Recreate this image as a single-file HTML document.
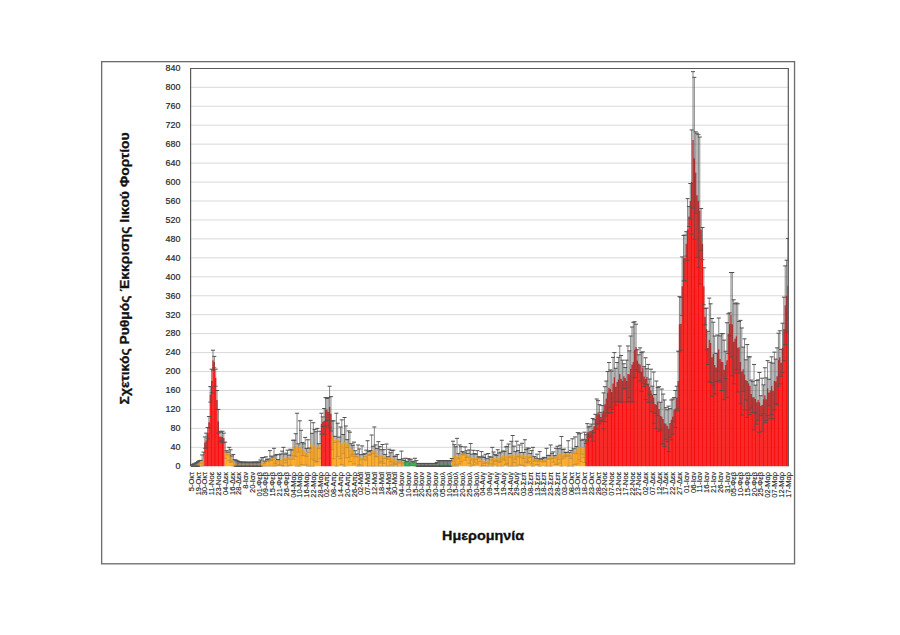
<!DOCTYPE html>
<html><head><meta charset="utf-8"><style>
html,body{margin:0;padding:0;background:#fff;width:900px;height:635px;overflow:hidden;position:relative}
</style></head><body>
<svg width="900" height="635" viewBox="0 0 900 635" style="position:absolute;left:0;top:0">
<rect x="101.65" y="61.65" width="692.9" height="502.15" fill="none" stroke="#6E6E6E" stroke-width="1.35"/>
<defs><clipPath id="pc"><rect x="191" y="60" width="598" height="407"/></clipPath></defs>
<path d="M190.6 447.35 H788.6 M190.6 428.4 H788.6 M190.6 409.45 H788.6 M190.6 390.5 H788.6 M190.6 371.55 H788.6 M190.6 352.6 H788.6 M190.6 333.65 H788.6 M190.6 314.7 H788.6 M190.6 295.75 H788.6 M190.6 276.8 H788.6 M190.6 257.85 H788.6 M190.6 238.9 H788.6 M190.6 219.95 H788.6 M190.6 201 H788.6 M190.6 182.05 H788.6 M190.6 163.1 H788.6 M190.6 144.15 H788.6 M190.6 125.2 H788.6 M190.6 106.25 H788.6 M190.6 87.3 H788.6" stroke="#D9D9D9" stroke-width="1" fill="none"/>
<g clip-path="url(#pc)">
<path d="M190.65 465.83h1.25V466.3h-1.25ZM192.01 465.59h1.25V466.3h-1.25ZM193.37 465.19h1.25V466.3h-1.25ZM194.72 464.69h1.25V466.3h-1.25ZM196.08 464.4h1.25V466.3h-1.25ZM197.43 463.84h1.25V466.3h-1.25ZM198.79 463.46h1.25V466.3h-1.25ZM200.15 461.78h1.25V466.3h-1.25ZM201.5 460.62h1.25V466.3h-1.25ZM202.86 458.72h1.25V466.3h-1.25ZM224.55 450.19h1.25V466.3h-1.25ZM225.91 451.63h1.25V466.3h-1.25ZM227.27 453.47h1.25V466.3h-1.25ZM228.62 453.98h1.25V466.3h-1.25ZM229.98 456.01h1.25V466.3h-1.25ZM231.33 458.53h1.25V466.3h-1.25ZM232.69 460.62h1.25V466.3h-1.25ZM234.05 463.46h1.25V466.3h-1.25ZM235.4 463.65h1.25V466.3h-1.25ZM236.76 463.91h1.25V466.3h-1.25ZM238.11 464.17h1.25V466.3h-1.25ZM239.47 464.41h1.25V466.3h-1.25ZM240.83 464.41h1.25V466.3h-1.25ZM242.18 464.41h1.25V466.3h-1.25ZM243.54 464.41h1.25V466.3h-1.25ZM244.89 464.41h1.25V466.3h-1.25ZM246.25 464.41h1.25V466.3h-1.25ZM247.61 464.41h1.25V466.3h-1.25ZM248.96 464.41h1.25V466.3h-1.25ZM250.32 464.41h1.25V466.3h-1.25ZM251.67 464.41h1.25V466.3h-1.25ZM253.03 464.41h1.25V466.3h-1.25ZM254.39 464.41h1.25V466.3h-1.25ZM255.74 464.41h1.25V466.3h-1.25ZM257.1 464.41h1.25V466.3h-1.25ZM258.45 464.41h1.25V466.3h-1.25ZM259.81 463.73h1.25V466.3h-1.25ZM261.17 462.98h1.25V466.3h-1.25ZM262.52 462.58h1.25V466.3h-1.25ZM263.88 462.12h1.25V466.3h-1.25ZM265.23 461.56h1.25V466.3h-1.25ZM266.59 460.47h1.25V466.3h-1.25ZM267.95 459.82h1.25V466.3h-1.25ZM269.3 459.19h1.25V466.3h-1.25ZM270.66 458.32h1.25V466.3h-1.25ZM272.01 458.01h1.25V466.3h-1.25ZM273.37 457.77h1.25V466.3h-1.25ZM274.73 459.46h1.25V466.3h-1.25ZM276.08 460.14h1.25V466.3h-1.25ZM277.44 460.25h1.25V466.3h-1.25ZM278.79 459.83h1.25V466.3h-1.25ZM280.15 459.67h1.25V466.3h-1.25ZM281.51 458.49h1.25V466.3h-1.25ZM282.86 457.3h1.25V466.3h-1.25ZM284.22 457.21h1.25V466.3h-1.25ZM285.57 458.02h1.25V466.3h-1.25ZM286.93 458.25h1.25V466.3h-1.25ZM288.29 457.07h1.25V466.3h-1.25ZM289.64 457.3h1.25V466.3h-1.25ZM291 452.89h1.25V466.3h-1.25ZM292.35 449.72h1.25V466.3h-1.25ZM293.71 448.02h1.25V466.3h-1.25ZM295.07 445.13h1.25V466.3h-1.25ZM296.42 445.46h1.25V466.3h-1.25ZM297.78 447.9h1.25V466.3h-1.25ZM299.13 446.4h1.25V466.3h-1.25ZM300.49 447.35h1.25V466.3h-1.25ZM301.85 448.98h1.25V466.3h-1.25ZM303.2 449.72h1.25V466.3h-1.25ZM304.56 451.14h1.25V466.3h-1.25ZM305.91 452.42h1.25V466.3h-1.25ZM307.27 453.98h1.25V466.3h-1.25ZM308.63 450.26h1.25V466.3h-1.25ZM309.98 444.03h1.25V466.3h-1.25ZM311.34 446.23h1.25V466.3h-1.25ZM312.69 444.98h1.25V466.3h-1.25ZM314.05 445.11h1.25V466.3h-1.25ZM315.41 446.93h1.25V466.3h-1.25ZM316.76 444.98h1.25V466.3h-1.25ZM318.12 446.16h1.25V466.3h-1.25ZM319.47 444.98h1.25V466.3h-1.25ZM331.68 435.28h1.25V466.3h-1.25ZM333.03 439.77h1.25V466.3h-1.25ZM334.39 439.43h1.25V466.3h-1.25ZM335.75 439.77h1.25V466.3h-1.25ZM337.1 439.77h1.25V466.3h-1.25ZM338.46 439.43h1.25V466.3h-1.25ZM339.81 442.83h1.25V466.3h-1.25ZM341.17 442.14h1.25V466.3h-1.25ZM342.53 444.14h1.25V466.3h-1.25ZM343.88 442.14h1.25V466.3h-1.25ZM345.24 441.91h1.25V466.3h-1.25ZM346.59 443.58h1.25V466.3h-1.25ZM347.95 444.26h1.25V466.3h-1.25ZM349.31 446.88h1.25V466.3h-1.25ZM350.66 449.93h1.25V466.3h-1.25ZM352.02 449.87h1.25V466.3h-1.25ZM353.37 453.04h1.25V466.3h-1.25ZM354.73 453.77h1.25V466.3h-1.25ZM356.09 455.32h1.25V466.3h-1.25ZM357.44 455.88h1.25V466.3h-1.25ZM358.8 456.87h1.25V466.3h-1.25ZM360.15 457.22h1.25V466.3h-1.25ZM361.51 457.77h1.25V466.3h-1.25ZM362.87 456.81h1.25V466.3h-1.25ZM364.22 455.24h1.25V466.3h-1.25ZM365.58 455.13h1.25V466.3h-1.25ZM366.93 453.98h1.25V466.3h-1.25ZM368.29 453.45h1.25V466.3h-1.25ZM369.65 452.55h1.25V466.3h-1.25ZM371 450.67h1.25V466.3h-1.25ZM372.36 449.89h1.25V466.3h-1.25ZM373.71 450.67h1.25V466.3h-1.25ZM375.07 450.61h1.25V466.3h-1.25ZM376.43 452.73h1.25V466.3h-1.25ZM377.78 455.4h1.25V466.3h-1.25ZM379.14 454.87h1.25V466.3h-1.25ZM380.49 455.77h1.25V466.3h-1.25ZM381.85 455.4h1.25V466.3h-1.25ZM383.21 456.49h1.25V466.3h-1.25ZM384.56 456.47h1.25V466.3h-1.25ZM385.92 456.82h1.25V466.3h-1.25ZM387.27 458.02h1.25V466.3h-1.25ZM388.63 457.77h1.25V466.3h-1.25ZM389.99 457.3h1.25V466.3h-1.25ZM391.34 457.7h1.25V466.3h-1.25ZM392.7 458.25h1.25V466.3h-1.25ZM394.05 459.9h1.25V466.3h-1.25ZM395.41 460.19h1.25V466.3h-1.25ZM396.77 461.09h1.25V466.3h-1.25ZM398.12 461.22h1.25V466.3h-1.25ZM399.48 460.82h1.25V466.3h-1.25ZM400.83 461.09h1.25V466.3h-1.25ZM402.19 461.38h1.25V466.3h-1.25ZM451.01 460.04h1.25V466.3h-1.25ZM452.36 456.35h1.25V466.3h-1.25ZM453.72 455.98h1.25V466.3h-1.25ZM455.07 455.82h1.25V466.3h-1.25ZM456.43 456.35h1.25V466.3h-1.25ZM457.79 456.22h1.25V466.3h-1.25ZM459.14 454.46h1.25V466.3h-1.25ZM460.5 454.15h1.25V466.3h-1.25ZM461.85 453.14h1.25V466.3h-1.25ZM463.21 453.82h1.25V466.3h-1.25ZM464.57 453.51h1.25V466.3h-1.25ZM465.92 454.16h1.25V466.3h-1.25ZM467.28 455.24h1.25V466.3h-1.25ZM468.63 456.59h1.25V466.3h-1.25ZM469.99 457.3h1.25V466.3h-1.25ZM471.35 457.08h1.25V466.3h-1.25ZM472.7 457.66h1.25V466.3h-1.25ZM474.06 457.86h1.25V466.3h-1.25ZM475.41 456.95h1.25V466.3h-1.25ZM476.77 457.3h1.25V466.3h-1.25ZM478.13 457.71h1.25V466.3h-1.25ZM479.48 459.26h1.25V466.3h-1.25ZM480.84 460.14h1.25V466.3h-1.25ZM482.19 460.78h1.25V466.3h-1.25ZM483.55 460.48h1.25V466.3h-1.25ZM484.91 461.22h1.25V466.3h-1.25ZM486.26 460.84h1.25V466.3h-1.25ZM487.62 461.09h1.25V466.3h-1.25ZM488.98 460.33h1.25V466.3h-1.25ZM490.33 458.56h1.25V466.3h-1.25ZM491.69 458.25h1.25V466.3h-1.25ZM493.04 458.03h1.25V466.3h-1.25ZM494.4 457.88h1.25V466.3h-1.25ZM495.76 458.15h1.25V466.3h-1.25ZM497.11 458.25h1.25V466.3h-1.25ZM498.47 457.71h1.25V466.3h-1.25ZM499.82 456.79h1.25V466.3h-1.25ZM501.18 455.4h1.25V466.3h-1.25ZM502.54 455.01h1.25V466.3h-1.25ZM503.89 455.83h1.25V466.3h-1.25ZM505.25 455.75h1.25V466.3h-1.25ZM506.6 454.95h1.25V466.3h-1.25ZM507.96 455.4h1.25V466.3h-1.25ZM509.32 455.28h1.25V466.3h-1.25ZM510.67 454.57h1.25V466.3h-1.25ZM512.03 454.46h1.25V466.3h-1.25ZM513.38 454.4h1.25V466.3h-1.25ZM514.74 455.25h1.25V466.3h-1.25ZM516.1 454.46h1.25V466.3h-1.25ZM517.45 453.69h1.25V466.3h-1.25ZM518.81 454.93h1.25V466.3h-1.25ZM520.16 454.88h1.25V466.3h-1.25ZM521.52 454.25h1.25V466.3h-1.25ZM522.88 455.52h1.25V466.3h-1.25ZM524.23 454.93h1.25V466.3h-1.25ZM525.59 455.92h1.25V466.3h-1.25ZM526.94 455.43h1.25V466.3h-1.25ZM528.3 454.93h1.25V466.3h-1.25ZM529.66 455.49h1.25V466.3h-1.25ZM531.01 457.25h1.25V466.3h-1.25ZM532.37 458.25h1.25V466.3h-1.25ZM533.72 458.72h1.25V466.3h-1.25ZM535.08 459.47h1.25V466.3h-1.25ZM536.44 459.36h1.25V466.3h-1.25ZM537.79 459.88h1.25V466.3h-1.25ZM539.15 460.62h1.25V466.3h-1.25ZM540.5 460.21h1.25V466.3h-1.25ZM541.86 459.93h1.25V466.3h-1.25ZM543.22 459.61h1.25V466.3h-1.25ZM544.57 459.48h1.25V466.3h-1.25ZM545.93 459.19h1.25V466.3h-1.25ZM547.28 457.22h1.25V466.3h-1.25ZM548.64 457.3h1.25V466.3h-1.25ZM550 456.35h1.25V466.3h-1.25ZM551.35 455.96h1.25V466.3h-1.25ZM552.71 457h1.25V466.3h-1.25ZM554.06 456.77h1.25V466.3h-1.25ZM555.42 456.35h1.25V466.3h-1.25ZM556.78 455.22h1.25V466.3h-1.25ZM558.13 454.07h1.25V466.3h-1.25ZM559.49 454.11h1.25V466.3h-1.25ZM560.84 453.04h1.25V466.3h-1.25ZM562.2 454.14h1.25V466.3h-1.25ZM563.56 453.05h1.25V466.3h-1.25ZM564.91 454.32h1.25V466.3h-1.25ZM566.27 454.06h1.25V466.3h-1.25ZM567.62 453.51h1.25V466.3h-1.25ZM568.98 454.23h1.25V466.3h-1.25ZM570.34 454.44h1.25V466.3h-1.25ZM571.69 453.04h1.25V466.3h-1.25ZM573.05 451.09h1.25V466.3h-1.25ZM574.4 450.67h1.25V466.3h-1.25ZM575.76 449.99h1.25V466.3h-1.25ZM577.12 448.3h1.25V466.3h-1.25ZM578.47 446.84h1.25V466.3h-1.25ZM579.83 447.35h1.25V466.3h-1.25ZM581.18 447.2h1.25V466.3h-1.25ZM582.54 448.52h1.25V466.3h-1.25ZM583.9 447.35h1.25V466.3h-1.25Z" fill="#FFA61A"/>
<path d="M204.21 442.61h1.25V466.3h-1.25ZM205.57 440.24h1.25V466.3h-1.25ZM206.93 433.14h1.25V466.3h-1.25ZM208.28 422.24h1.25V466.3h-1.25ZM209.64 394.38h1.25V466.3h-1.25ZM210.99 381.02h1.25V466.3h-1.25ZM212.35 360.18h1.25V466.3h-1.25ZM213.71 362.08h1.25V466.3h-1.25ZM215.06 377.71h1.25V466.3h-1.25ZM216.42 399.98h1.25V466.3h-1.25ZM217.77 421.29h1.25V466.3h-1.25ZM219.13 436.45h1.25V466.3h-1.25ZM220.49 436.45h1.25V466.3h-1.25ZM221.84 436.93h1.25V466.3h-1.25ZM223.2 437.88h1.25V466.3h-1.25ZM320.83 423.66h1.25V466.3h-1.25ZM322.19 421.74h1.25V466.3h-1.25ZM323.54 421.29h1.25V466.3h-1.25ZM324.9 409.45h1.25V466.3h-1.25ZM326.25 409.46h1.25V466.3h-1.25ZM327.61 411.82h1.25V466.3h-1.25ZM328.97 407.08h1.25V466.3h-1.25ZM330.32 413.84h1.25V466.3h-1.25ZM585.25 439.1h1.25V466.3h-1.25ZM586.61 432.19h1.25V466.3h-1.25ZM587.96 432.19h1.25V466.3h-1.25ZM589.32 430.94h1.25V466.3h-1.25ZM590.68 430.73h1.25V466.3h-1.25ZM592.03 429.82h1.25V466.3h-1.25ZM593.39 426.17h1.25V466.3h-1.25ZM594.74 419.18h1.25V466.3h-1.25ZM596.1 414.19h1.25V466.3h-1.25ZM597.46 412.31h1.25V466.3h-1.25ZM598.81 414.19h1.25V466.3h-1.25ZM600.17 416.95h1.25V466.3h-1.25ZM601.52 413.15h1.25V466.3h-1.25ZM602.88 410.87h1.25V466.3h-1.25ZM604.24 404.24h1.25V466.3h-1.25ZM605.59 398.52h1.25V466.3h-1.25ZM606.95 392.39h1.25V466.3h-1.25ZM608.3 387.66h1.25V466.3h-1.25ZM609.66 388.74h1.25V466.3h-1.25ZM611.02 391.92h1.25V466.3h-1.25ZM612.37 383.39h1.25V466.3h-1.25ZM613.73 377.24h1.25V466.3h-1.25ZM615.08 386.83h1.25V466.3h-1.25ZM616.44 381.97h1.25V466.3h-1.25ZM617.8 379.6h1.25V466.3h-1.25ZM619.15 373.92h1.25V466.3h-1.25ZM620.51 378.66h1.25V466.3h-1.25ZM621.86 381.02h1.25V466.3h-1.25ZM623.22 376.32h1.25V466.3h-1.25ZM624.58 377.92h1.25V466.3h-1.25ZM625.93 381.02h1.25V466.3h-1.25ZM627.29 373.92h1.25V466.3h-1.25ZM628.64 374.26h1.25V466.3h-1.25ZM630 368.71h1.25V466.3h-1.25ZM631.36 364.44h1.25V466.3h-1.25ZM632.71 362.08h1.25V466.3h-1.25ZM634.07 349.76h1.25V466.3h-1.25ZM635.42 346.92h1.25V466.3h-1.25ZM636.78 360.62h1.25V466.3h-1.25ZM638.14 363.41h1.25V466.3h-1.25ZM639.49 364.44h1.25V466.3h-1.25ZM640.85 372.02h1.25V466.3h-1.25ZM642.2 367.75h1.25V466.3h-1.25ZM643.56 376.59h1.25V466.3h-1.25ZM644.92 378.66h1.25V466.3h-1.25ZM646.27 376.64h1.25V466.3h-1.25ZM647.63 383.39h1.25V466.3h-1.25ZM648.98 386.65h1.25V466.3h-1.25ZM650.34 390.5h1.25V466.3h-1.25ZM651.7 394.42h1.25V466.3h-1.25ZM653.05 397.61h1.25V466.3h-1.25ZM654.41 403.92h1.25V466.3h-1.25ZM655.76 404.71h1.25V466.3h-1.25ZM657.12 401.56h1.25V466.3h-1.25ZM658.48 408.98h1.25V466.3h-1.25ZM659.83 415.98h1.25V466.3h-1.25ZM661.19 416.56h1.25V466.3h-1.25ZM662.54 418.94h1.25V466.3h-1.25ZM663.9 423.19h1.25V466.3h-1.25ZM665.26 423.39h1.25V466.3h-1.25ZM666.61 425.7h1.25V466.3h-1.25ZM667.97 428.87h1.25V466.3h-1.25ZM669.32 422.89h1.25V466.3h-1.25ZM670.68 419.87h1.25V466.3h-1.25ZM672.04 416.56h1.25V466.3h-1.25ZM673.39 409.7h1.25V466.3h-1.25ZM674.75 408.98h1.25V466.3h-1.25ZM676.1 397.61h1.25V466.3h-1.25ZM677.46 381.02h1.25V466.3h-1.25ZM678.82 324.18h1.25V466.3h-1.25ZM680.17 323.73h1.25V466.3h-1.25ZM681.53 286.27h1.25V466.3h-1.25ZM682.88 258.16h1.25V466.3h-1.25ZM684.24 257.85h1.25V466.3h-1.25ZM685.6 243.87h1.25V466.3h-1.25ZM686.95 229.43h1.25V466.3h-1.25ZM688.31 216.53h1.25V466.3h-1.25ZM689.66 201h1.25V466.3h-1.25ZM691.02 182.05h1.25V466.3h-1.25ZM692.38 139.89h1.25V466.3h-1.25ZM693.73 158.36h1.25V466.3h-1.25ZM695.09 172.57h1.25V466.3h-1.25ZM696.44 195.31h1.25V466.3h-1.25ZM697.8 201h1.25V466.3h-1.25ZM699.16 210.48h1.25V466.3h-1.25ZM700.51 229.43h1.25V466.3h-1.25ZM701.87 243.64h1.25V466.3h-1.25ZM703.22 286.27h1.25V466.3h-1.25ZM704.58 316.67h1.25V466.3h-1.25ZM705.94 328.91h1.25V466.3h-1.25ZM707.29 347.92h1.25V466.3h-1.25ZM708.65 339.81h1.25V466.3h-1.25ZM710 343.12h1.25V466.3h-1.25ZM711.36 357.34h1.25V466.3h-1.25ZM712.72 353.73h1.25V466.3h-1.25ZM714.07 364.92h1.25V466.3h-1.25ZM715.43 367.49h1.25V466.3h-1.25ZM716.78 353.11h1.25V466.3h-1.25ZM718.14 349.28h1.25V466.3h-1.25ZM719.5 358.96h1.25V466.3h-1.25ZM720.85 362.08h1.25V466.3h-1.25ZM722.21 362.08h1.25V466.3h-1.25ZM723.56 369.85h1.25V466.3h-1.25ZM724.92 364.9h1.25V466.3h-1.25ZM726.28 360.18h1.25V466.3h-1.25ZM727.63 333.65h1.25V466.3h-1.25ZM728.99 324.3h1.25V466.3h-1.25ZM730.34 314.7h1.25V466.3h-1.25ZM731.7 324.18h1.25V466.3h-1.25ZM733.06 341.77h1.25V466.3h-1.25ZM734.41 338.39h1.25V466.3h-1.25ZM735.77 336.25h1.25V466.3h-1.25ZM737.12 347.86h1.25V466.3h-1.25ZM738.48 347.24h1.25V466.3h-1.25ZM739.84 362.08h1.25V466.3h-1.25ZM741.19 371.55h1.25V466.3h-1.25ZM742.55 369.32h1.25V466.3h-1.25ZM743.9 374.39h1.25V466.3h-1.25ZM745.26 379.9h1.25V466.3h-1.25ZM746.62 381.02h1.25V466.3h-1.25ZM747.97 383.33h1.25V466.3h-1.25ZM749.33 385.76h1.25V466.3h-1.25ZM750.68 394.03h1.25V466.3h-1.25ZM752.04 397.15h1.25V466.3h-1.25ZM753.4 397.13h1.25V466.3h-1.25ZM754.75 398.99h1.25V466.3h-1.25ZM756.11 402.34h1.25V466.3h-1.25ZM757.46 400.03h1.25V466.3h-1.25ZM758.82 402.34h1.25V466.3h-1.25ZM760.18 405.69h1.25V466.3h-1.25ZM761.53 404.71h1.25V466.3h-1.25ZM762.89 399.3h1.25V466.3h-1.25ZM764.24 395.24h1.25V466.3h-1.25ZM765.6 399.27h1.25V466.3h-1.25ZM766.96 388.13h1.25V466.3h-1.25ZM768.31 392.5h1.25V466.3h-1.25ZM769.67 390.51h1.25V466.3h-1.25ZM771.02 385.76h1.25V466.3h-1.25ZM772.38 390.95h1.25V466.3h-1.25ZM773.74 381.02h1.25V466.3h-1.25ZM775.09 381.33h1.25V466.3h-1.25ZM776.45 376.29h1.25V466.3h-1.25ZM777.8 359.71h1.25V466.3h-1.25ZM779.16 357.34h1.25V466.3h-1.25ZM780.52 362.84h1.25V466.3h-1.25ZM781.87 347.86h1.25V466.3h-1.25ZM783.23 328.91h1.25V466.3h-1.25ZM784.58 305.23h1.25V466.3h-1.25ZM785.94 295.75h1.25V466.3h-1.25ZM787.3 285.8h1.25V466.3h-1.25Z" fill="#F81010"/>
<path d="M403.55 461.62h1.25V466.3h-1.25ZM404.9 462.04h1.25V466.3h-1.25ZM406.26 461.88h1.25V466.3h-1.25ZM407.61 462.35h1.25V466.3h-1.25ZM408.97 461.83h1.25V466.3h-1.25ZM410.33 462.37h1.25V466.3h-1.25ZM411.68 461.7h1.25V466.3h-1.25ZM413.04 462.33h1.25V466.3h-1.25ZM414.39 462.04h1.25V466.3h-1.25ZM415.75 463.45h1.25V466.3h-1.25ZM417.11 465.12h1.25V466.3h-1.25ZM418.46 465.12h1.25V466.3h-1.25ZM419.82 465.12h1.25V466.3h-1.25ZM421.17 465.12h1.25V466.3h-1.25ZM422.53 465.12h1.25V466.3h-1.25ZM423.89 465.12h1.25V466.3h-1.25ZM425.24 465.12h1.25V466.3h-1.25ZM426.6 465.12h1.25V466.3h-1.25ZM427.95 465.12h1.25V466.3h-1.25ZM429.31 465.12h1.25V466.3h-1.25ZM430.67 465.12h1.25V466.3h-1.25ZM432.02 465.12h1.25V466.3h-1.25ZM433.38 465.12h1.25V466.3h-1.25ZM434.73 465.12h1.25V466.3h-1.25ZM436.09 464.79h1.25V466.3h-1.25ZM437.45 464.22h1.25V466.3h-1.25ZM438.8 464.22h1.25V466.3h-1.25ZM440.16 464.22h1.25V466.3h-1.25ZM441.51 464.22h1.25V466.3h-1.25ZM442.87 464.22h1.25V466.3h-1.25ZM444.23 464.22h1.25V466.3h-1.25ZM445.58 464.22h1.25V466.3h-1.25ZM446.94 464.22h1.25V466.3h-1.25ZM448.29 464.22h1.25V466.3h-1.25ZM449.65 464.22h1.25V466.3h-1.25Z" fill="#2DB04B"/>
<path d="M190.6 464.88H191.96V465.83H190.6ZM191.96 464.41H193.31V465.59H191.96ZM193.31 463.84H194.67V465.19H193.31ZM194.67 463.13H196.02V464.69H194.67ZM196.02 462.54H197.38V464.4H196.02ZM197.38 461.4H198.74V463.84H197.38ZM235.35 460.15H236.7V463.65H235.35ZM236.7 460.8H238.06V463.91H236.7ZM238.06 461.44H239.42V464.17H238.06ZM239.42 462.04H240.77V464.41H239.42ZM240.77 462.07H242.13V464.41H240.77ZM242.13 462.1H243.48V464.41H242.13ZM243.48 462.13H244.84V464.41H243.48ZM244.84 462.17H246.2V464.41H244.84ZM246.2 462.2H247.55V464.41H246.2ZM247.55 462.23H248.91V464.41H247.55ZM248.91 462.27H250.26V464.41H248.91ZM250.26 462.25H251.62V464.41H250.26ZM251.62 462.21H252.98V464.41H251.62ZM252.98 462.18H254.33V464.41H252.98ZM254.33 462.14H255.69V464.41H254.33ZM255.69 462.11H257.04V464.41H255.69ZM257.04 462.07H258.4V464.41H257.04ZM258.4 462.04H259.76V464.41H258.4ZM259.76 460H261.11V463.73H259.76ZM417.05 463.46H418.41V465.12H417.05ZM418.41 463.46H419.77V465.12H418.41ZM419.77 463.46H421.12V465.12H419.77ZM421.12 463.46H422.48V465.12H421.12ZM422.48 463.46H423.83V465.12H422.48ZM423.83 463.46H425.19V465.12H423.83ZM425.19 463.46H426.55V465.12H425.19ZM426.55 463.46H427.9V465.12H426.55ZM427.9 463.46H429.26V465.12H427.9ZM429.26 463.46H430.61V465.12H429.26ZM430.61 463.46H431.97V465.12H430.61ZM431.97 463.46H433.33V465.12H431.97ZM433.33 463.46H434.68V465.12H433.33ZM434.68 463.46H436.04V465.12H434.68ZM436.04 462.44H437.39V464.79H436.04ZM437.39 460.62H438.75V464.22H437.39ZM438.75 460.62H440.11V464.22H438.75ZM440.11 460.62H441.46V464.22H440.11ZM441.46 460.62H442.82V464.22H441.46ZM442.82 460.62H444.17V464.22H442.82ZM444.17 460.62H445.53V464.22H444.17ZM445.53 460.62H446.89V464.22H445.53ZM446.89 460.62H448.24V464.22H446.89ZM448.24 460.62H449.6V464.22H448.24ZM449.6 460.62H450.95V464.22H449.6Z" fill="#555" opacity="0.55"/>
<g opacity="0.85"><path d="M204.84 448.3V442.61M206.19 447.35V440.24M207.55 438.82V433.14M208.91 427.93V422.24M210.26 402.1V394.38M211.62 392.87V381.02M212.97 370.13V360.18M214.33 367.76V362.08M215.69 386.24V377.71M217.04 409.45V399.98M218.4 433.14V421.29M219.75 441.67V436.45M221.11 440.72V436.45M222.47 442.61V436.93M223.82 442.61V437.88M321.45 434.09V423.66M322.81 426.58V421.74M324.17 434.09V421.29M325.52 421.29V409.45M326.88 420.49V409.46M328.23 426.03V411.82M329.59 427.93V407.08M330.95 431.02V413.84M585.88 443.48V439.1M587.23 440.72V432.19M588.59 437.4V432.19M589.94 435.68V430.94M591.3 437.37V430.73M592.66 441.19V429.82M594.01 432.65V426.17M595.37 424.02V419.18M596.72 429.35V414.19M598.08 423.93V412.31M599.44 423.66V414.19M600.79 421.62V416.95M602.15 420.66V413.15M603.5 428.87V410.87M604.86 421.77V404.24M606.22 415.97V398.52M607.57 413.24V392.39M608.93 412.77V387.66M610.28 407.58V388.74M611.64 412.77V391.92M613 409.45V383.39M614.35 401.87V377.24M615.71 405.34V386.83M617.06 401.4V381.97M618.42 401.87V379.6M619.78 401.87V373.92M621.13 401.87V378.66M622.49 401.87V381.02M623.84 388.87V376.32M625.2 388.32V377.92M626.56 401.87V381.02M627.91 401.87V373.92M629.27 397.63V374.26M630.62 401.4V368.71M631.98 401.87V364.44M633.34 401.87V362.08M634.69 377.71V349.76M636.05 369.66V346.92M637.4 371.48V360.62M638.76 372.02V363.41M640.12 381.02V364.44M641.47 391.45V372.02M642.83 383.64V367.75M644.19 386.55V376.59M645.54 399.5V378.66M646.9 384.56V376.64M648.25 402.34V383.39M649.61 394.23V386.65M650.97 411.82V390.5M652.32 402.64V394.42M653.68 423.19V397.61M655.03 413.31V403.92M656.39 428.4V404.71M657.75 415.54V401.56M659.1 431.24V408.98M660.46 429.67V415.98M661.81 444.03V416.56M663.17 443.82V418.94M664.53 446.4V423.19M665.88 439.13V423.39M667.24 441.58V425.7M668.59 451.61V428.87M669.95 437.16V422.89M671.31 439.77V419.87M672.66 434.09V416.56M674.02 421.76V409.7M675.37 427.45V408.98M676.73 408.98V397.61M678.09 410.87V381.02M679.44 351.65V324.18M680.8 350.21V323.73M682.15 315.65V286.27M683.51 280.91V258.16M684.87 280.59V257.85M686.22 256.06V243.87M687.58 260.22V229.43M688.93 226.52V216.53M690.29 218.53V201M691.65 234.16V182.05M693 208.11V139.89M694.36 239.37V158.36M695.71 213.32V172.57M697.07 257.38V195.31M698.43 267.33V201M699.78 283.91V210.48M701.14 250.27V229.43M702.49 259.75V243.64M703.85 304.75V286.27M705.21 324.8V316.67M706.56 349.76V328.91M707.92 364.51V347.92M709.27 381.5V339.81M710.63 382.45V343.12M711.99 396.19V357.34M713.34 385.26V353.73M714.7 393.82V364.92M716.05 381.61V367.49M717.41 371.17V353.11M718.77 380.55V349.28M720.12 382.02V358.96M721.48 390.5V362.08M722.83 390.5V362.08M724.19 399.61V369.85M725.55 378.55V364.9M726.9 397.61V360.18M728.26 353.55V333.65M729.61 335.75V324.3M730.97 356.86V314.7M732.33 375.81V324.18M733.68 383.76V341.77M735.04 372.97V338.39M736.39 369.53V336.25M737.75 391.92V347.86M739.11 373.01V347.24M740.46 403.76V362.08M741.82 415.13V371.55M743.17 391.5V369.32M744.53 409.92V374.39M745.89 399.99V379.9M747.24 417.5V381.02M748.6 409.82V383.33M749.95 414.66V385.76M751.31 407.95V394.03M752.67 412.63V397.15M754.02 429.82V397.13M755.38 412.86V398.99M756.73 424.14V402.34M758.09 420.19V400.03M759.45 432.19V402.34M760.8 415.64V405.69M762.16 431.24V404.71M763.51 413.7V399.3M764.87 422.72V395.24M766.23 420.66V399.27M767.58 415.61V388.13M768.94 405.75V392.5M770.29 418.69V390.51M771.65 414.66V385.76M773.01 418.73V390.95M774.36 409.92V381.02M775.72 403.49V381.33M777.07 404.71V376.29M778.43 386.24V359.71M779.79 383.87V357.34M781.14 376.28V362.84M782.5 372.5V347.86M783.85 360.65V328.91M785.21 344.55V305.23M786.57 331.28V295.75M787.92 333.18V285.8" stroke="#555" stroke-width="0.7" fill="none"/><path d="M202.84 448.3h4M204.19 447.35h4M205.55 438.82h4M206.91 427.93h4M208.26 402.1h4M209.62 392.87h4M210.97 370.13h4M212.33 367.76h4M213.69 386.24h4M215.04 409.45h4M216.4 433.14h4M217.75 441.67h4M219.11 440.72h4M220.47 442.61h4M221.82 442.61h4M319.45 434.09h4M320.81 426.58h4M322.17 434.09h4M323.52 421.29h4M324.88 420.49h4M326.23 426.03h4M327.59 427.93h4M328.95 431.02h4M583.88 443.48h4M585.23 440.72h4M586.59 437.4h4M587.94 435.68h4M589.3 437.37h4M590.66 441.19h4M592.01 432.65h4M593.37 424.02h4M594.72 429.35h4M596.08 423.93h4M597.44 423.66h4M598.79 421.62h4M600.15 420.66h4M601.5 428.87h4M602.86 421.77h4M604.22 415.97h4M605.57 413.24h4M606.93 412.77h4M608.28 407.58h4M609.64 412.77h4M611 409.45h4M612.35 401.87h4M613.71 405.34h4M615.06 401.4h4M616.42 401.87h4M617.78 401.87h4M619.13 401.87h4M620.49 401.87h4M621.84 388.87h4M623.2 388.32h4M624.56 401.87h4M625.91 401.87h4M627.27 397.63h4M628.62 401.4h4M629.98 401.87h4M631.34 401.87h4M632.69 377.71h4M634.05 369.66h4M635.4 371.48h4M636.76 372.02h4M638.12 381.02h4M639.47 391.45h4M640.83 383.64h4M642.19 386.55h4M643.54 399.5h4M644.9 384.56h4M646.25 402.34h4M647.61 394.23h4M648.97 411.82h4M650.32 402.64h4M651.68 423.19h4M653.03 413.31h4M654.39 428.4h4M655.75 415.54h4M657.1 431.24h4M658.46 429.67h4M659.81 444.03h4M661.17 443.82h4M662.53 446.4h4M663.88 439.13h4M665.24 441.58h4M666.59 451.61h4M667.95 437.16h4M669.31 439.77h4M670.66 434.09h4M672.02 421.76h4M673.37 427.45h4M674.73 408.98h4M676.09 410.87h4M677.44 351.65h4M678.8 350.21h4M680.15 315.65h4M681.51 280.91h4M682.87 280.59h4M684.22 256.06h4M685.58 260.22h4M686.93 226.52h4M688.29 218.53h4M689.65 234.16h4M691 208.11h4M692.36 239.37h4M693.71 213.32h4M695.07 257.38h4M696.43 267.33h4M697.78 283.91h4M699.14 250.27h4M700.49 259.75h4M701.85 304.75h4M703.21 324.8h4M704.56 349.76h4M705.92 364.51h4M707.27 381.5h4M708.63 382.45h4M709.99 396.19h4M711.34 385.26h4M712.7 393.82h4M714.05 381.61h4M715.41 371.17h4M716.77 380.55h4M718.12 382.02h4M719.48 390.5h4M720.83 390.5h4M722.19 399.61h4M723.55 378.55h4M724.9 397.61h4M726.26 353.55h4M727.61 335.75h4M728.97 356.86h4M730.33 375.81h4M731.68 383.76h4M733.04 372.97h4M734.39 369.53h4M735.75 391.92h4M737.11 373.01h4M738.46 403.76h4M739.82 415.13h4M741.17 391.5h4M742.53 409.92h4M743.89 399.99h4M745.24 417.5h4M746.6 409.82h4M747.95 414.66h4M749.31 407.95h4M750.67 412.63h4M752.02 429.82h4M753.38 412.86h4M754.73 424.14h4M756.09 420.19h4M757.45 432.19h4M758.8 415.64h4M760.16 431.24h4M761.51 413.7h4M762.87 422.72h4M764.23 420.66h4M765.58 415.61h4M766.94 405.75h4M768.29 418.69h4M769.65 414.66h4M771.01 418.73h4M772.36 409.92h4M773.72 403.49h4M775.07 404.71h4M776.43 386.24h4M777.79 383.87h4M779.14 376.28h4M780.5 372.5h4M781.85 360.65h4M783.21 344.55h4M784.57 331.28h4M785.92 333.18h4" stroke="#505050" stroke-width="1" fill="none"/></g>
<g opacity="0.3"><path d="M199.41 466.3V463.46M200.77 463.21V461.78M202.13 466.3V460.62M203.48 465.35V458.72M225.18 458.25V450.19M226.53 452.57V451.63M227.89 454.86V453.47M229.25 460.62V453.98M230.6 462.23V456.01M231.96 461.12V458.53M233.31 466.3V460.62M234.67 466.3V463.46M261.79 466.3V462.98M263.15 466.3V462.58M264.5 463.16V462.12M265.86 466.3V461.56M267.21 461.26V460.47M268.57 460.68V459.82M269.93 466.3V459.19M271.28 460.53V458.32M272.64 459.12V458.01M273.99 466.3V457.77M275.35 463.6V459.46M276.71 465.83V460.14M278.06 461.05V460.25M279.42 464.97V459.83M280.77 465.35V459.67M282.13 465.85V458.49M283.49 466.3V457.3M284.84 460.2V457.21M286.2 462.89V458.02M287.55 466.3V458.25M288.91 459.04V457.07M290.27 465.35V457.3M291.62 455.75V452.89M292.98 459.19V449.72M294.33 455.8V448.02M295.69 456.55V445.13M297.05 466.3V445.46M298.4 451.99V447.9M299.76 466.3V446.4M301.11 464.41V447.35M302.47 455.48V448.98M303.83 455.62V449.72M305.18 464.88V451.14M306.54 456.39V452.42M307.89 466.3V453.98M309.25 452.48V450.26M310.61 466.3V444.03M311.96 459.12V446.23M313.32 466.3V444.98M314.67 460.62V445.11M316.03 462.11V446.93M317.39 461.56V444.98M318.74 448.59V446.16M320.1 458.72V444.98M332.3 449.66V435.28M333.66 458.72V439.77M335.01 442.49V439.43M336.37 466.3V439.77M337.73 456.35V439.77M339.08 441.78V439.43M340.44 458.64V442.83M341.8 464.41V442.14M343.15 453.78V444.14M344.51 466.3V442.14M345.86 457.83V441.91M347.22 447.53V443.58M348.58 457.64V444.26M349.93 461.56V446.88M351.29 456.15V449.93M352.64 454.37V449.87M354 463.93V453.04M355.36 456.79V453.77M356.71 456.69V455.32M358.07 466.3V455.88M359.42 464.78V456.87M360.78 459.76V457.22M362.14 466.3V457.77M363.49 459.23V456.81M364.85 456.8V455.24M366.2 460.14V455.13M367.56 466.3V453.98M368.92 455.32V453.45M370.27 454.53V452.55M371.63 466.3V450.67M372.98 453.52V449.89M374.34 466.3V450.67M375.7 456.34V450.61M377.05 456.85V452.73M378.41 466.3V455.4M379.76 463.11V454.87M381.12 461.76V455.77M382.48 466.3V455.4M383.83 463.31V456.49M385.19 458.54V456.47M386.54 466.3V456.82M387.9 459.32V458.02M389.26 466.3V457.77M390.61 461.87V457.3M391.97 464.95V457.7M393.32 466.3V458.25M394.68 463.26V459.9M396.04 464.38V460.19M397.39 466.3V461.09M398.75 463.02V461.22M400.1 461.93V460.82M401.46 466.3V461.09M402.82 463.91V461.38M404.17 462.76V461.62M405.53 465.83V462.04M406.88 462.38V461.88M408.24 466.09V462.35M409.6 463.87V461.83M410.95 465.6V462.37M412.31 462.18V461.7M413.66 462.81V462.33M415.02 465.83V462.04M416.38 466.26V463.45M451.63 461.59V460.04M452.99 466.3V456.35M454.34 466.3V455.98M455.7 464.9V455.82M457.06 466.3V456.35M458.41 458.78V456.22M459.77 463.93V454.46M461.12 461.68V454.15M462.48 454.73V453.14M463.84 454.8V453.82M465.19 460.14V453.51M466.55 457.53V454.16M467.9 457.12V455.24M469.26 463.25V456.59M470.62 466.3V457.3M471.97 459.98V457.08M473.33 465.03V457.66M474.68 462.21V457.86M476.04 459.67V456.95M477.4 463.93V457.3M478.75 458.59V457.71M480.11 461.49V459.26M481.46 466.3V460.14M482.82 465.5V460.78M484.18 463.5V460.48M485.53 466.3V461.22M486.89 462.96V460.84M488.24 466.3V461.09M489.6 463.89V460.33M490.96 460.01V458.56M492.31 466.3V458.25M493.67 464.04V458.03M495.02 461.37V457.88M496.38 460.75V458.15M497.74 466.3V458.25M499.09 462.38V457.71M500.45 461.37V456.79M501.8 466.3V455.4M503.16 459.12V455.01M504.52 460.1V455.83M505.87 464.64V455.75M507.23 463.57V454.95M508.58 466.3V455.4M509.94 457.1V455.28M511.3 466.3V454.57M512.65 466.3V454.46M514.01 462.63V454.4M515.36 459.04V455.25M516.72 466.3V454.46M518.08 456.81V453.69M519.43 464.88V454.93M520.79 457.24V454.88M522.14 465.24V454.25M523.5 458.55V455.52M524.86 466.3V454.93M526.21 462.25V455.92M527.57 462.81V455.43M528.92 461.56V454.93M530.28 457.49V455.49M531.64 463.86V457.25M532.99 466.3V458.25M534.35 461.04V458.72M535.7 460.95V459.47M537.06 464.55V459.36M538.42 461.03V459.88M539.77 466.3V460.62M541.13 461.35V460.21M542.48 461.5V459.93M543.84 461.88V459.61M545.2 461.24V459.48M546.55 466.3V459.19M547.91 458.85V457.22M549.26 459.3V457.3M550.62 466.3V456.35M551.98 458.56V455.96M553.33 462.08V457M554.69 457.92V456.77M556.04 464.41V456.35M557.4 464.19V455.22M558.76 459.54V454.07M560.11 462.96V454.11M561.47 466.3V453.04M562.82 458.86V454.14M564.18 457V453.05M565.54 456.16V454.32M566.89 455.92V454.06M568.25 466.3V453.51M569.6 456.12V454.23M570.96 458.46V454.44M572.32 466.3V453.04M573.67 453.45V451.09M575.03 464.41V450.67M576.38 453.52V449.99M577.74 463.93V448.3M579.1 459.82V446.84M580.45 461.56V447.35M581.81 454.09V447.2M583.16 457.73V448.52M584.52 462.51V447.35" stroke="#555" stroke-width="0.7" fill="none"/><path d="M197.41 466.3h4M198.77 463.21h4M200.13 466.3h4M201.48 465.35h4M223.18 458.25h4M224.53 452.57h4M225.89 454.86h4M227.25 460.62h4M228.6 462.23h4M229.96 461.12h4M231.31 466.3h4M232.67 466.3h4M259.79 466.3h4M261.15 466.3h4M262.5 463.16h4M263.86 466.3h4M265.21 461.26h4M266.57 460.68h4M267.93 466.3h4M269.28 460.53h4M270.64 459.12h4M271.99 466.3h4M273.35 463.6h4M274.71 465.83h4M276.06 461.05h4M277.42 464.97h4M278.77 465.35h4M280.13 465.85h4M281.49 466.3h4M282.84 460.2h4M284.2 462.89h4M285.55 466.3h4M286.91 459.04h4M288.27 465.35h4M289.62 455.75h4M290.98 459.19h4M292.33 455.8h4M293.69 456.55h4M295.05 466.3h4M296.4 451.99h4M297.76 466.3h4M299.11 464.41h4M300.47 455.48h4M301.83 455.62h4M303.18 464.88h4M304.54 456.39h4M305.89 466.3h4M307.25 452.48h4M308.61 466.3h4M309.96 459.12h4M311.32 466.3h4M312.67 460.62h4M314.03 462.11h4M315.39 461.56h4M316.74 448.59h4M318.1 458.72h4M330.3 449.66h4M331.66 458.72h4M333.01 442.49h4M334.37 466.3h4M335.73 456.35h4M337.08 441.78h4M338.44 458.64h4M339.8 464.41h4M341.15 453.78h4M342.51 466.3h4M343.86 457.83h4M345.22 447.53h4M346.58 457.64h4M347.93 461.56h4M349.29 456.15h4M350.64 454.37h4M352 463.93h4M353.36 456.79h4M354.71 456.69h4M356.07 466.3h4M357.42 464.78h4M358.78 459.76h4M360.14 466.3h4M361.49 459.23h4M362.85 456.8h4M364.2 460.14h4M365.56 466.3h4M366.92 455.32h4M368.27 454.53h4M369.63 466.3h4M370.98 453.52h4M372.34 466.3h4M373.7 456.34h4M375.05 456.85h4M376.41 466.3h4M377.76 463.11h4M379.12 461.76h4M380.48 466.3h4M381.83 463.31h4M383.19 458.54h4M384.54 466.3h4M385.9 459.32h4M387.26 466.3h4M388.61 461.87h4M389.97 464.95h4M391.32 466.3h4M392.68 463.26h4M394.04 464.38h4M395.39 466.3h4M396.75 463.02h4M398.1 461.93h4M399.46 466.3h4M400.82 463.91h4M402.17 462.76h4M403.53 465.83h4M404.88 462.38h4M406.24 466.09h4M407.6 463.87h4M408.95 465.6h4M410.31 462.18h4M411.66 462.81h4M413.02 465.83h4M414.38 466.26h4M449.63 461.59h4M450.99 466.3h4M452.34 466.3h4M453.7 464.9h4M455.06 466.3h4M456.41 458.78h4M457.77 463.93h4M459.12 461.68h4M460.48 454.73h4M461.84 454.8h4M463.19 460.14h4M464.55 457.53h4M465.9 457.12h4M467.26 463.25h4M468.62 466.3h4M469.97 459.98h4M471.33 465.03h4M472.68 462.21h4M474.04 459.67h4M475.4 463.93h4M476.75 458.59h4M478.11 461.49h4M479.46 466.3h4M480.82 465.5h4M482.18 463.5h4M483.53 466.3h4M484.89 462.96h4M486.24 466.3h4M487.6 463.89h4M488.96 460.01h4M490.31 466.3h4M491.67 464.04h4M493.02 461.37h4M494.38 460.75h4M495.74 466.3h4M497.09 462.38h4M498.45 461.37h4M499.8 466.3h4M501.16 459.12h4M502.52 460.1h4M503.87 464.64h4M505.23 463.57h4M506.58 466.3h4M507.94 457.1h4M509.3 466.3h4M510.65 466.3h4M512.01 462.63h4M513.36 459.04h4M514.72 466.3h4M516.08 456.81h4M517.43 464.88h4M518.79 457.24h4M520.14 465.24h4M521.5 458.55h4M522.86 466.3h4M524.21 462.25h4M525.57 462.81h4M526.92 461.56h4M528.28 457.49h4M529.64 463.86h4M530.99 466.3h4M532.35 461.04h4M533.7 460.95h4M535.06 464.55h4M536.42 461.03h4M537.77 466.3h4M539.13 461.35h4M540.48 461.5h4M541.84 461.88h4M543.2 461.24h4M544.55 466.3h4M545.91 458.85h4M547.26 459.3h4M548.62 466.3h4M549.98 458.56h4M551.33 462.08h4M552.69 457.92h4M554.04 464.41h4M555.4 464.19h4M556.76 459.54h4M558.11 462.96h4M559.47 466.3h4M560.82 458.86h4M562.18 457h4M563.54 456.16h4M564.89 455.92h4M566.25 466.3h4M567.6 456.12h4M568.96 458.46h4M570.32 466.3h4M571.67 453.45h4M573.03 464.41h4M574.38 453.52h4M575.74 463.93h4M577.1 459.82h4M578.45 461.56h4M579.81 454.09h4M581.16 457.73h4M582.52 462.51h4" stroke="#505050" stroke-width="1" fill="none"/></g>
<g opacity="1.0"><path d="M191.28 466.3V465.83M192.63 466.3V465.59M193.99 466.3V465.19M195.35 466.25V464.69M196.7 466.26V464.4M198.06 466.29V463.84M236.03 466.3V463.65M237.38 466.3V463.91M238.74 466.3V464.17M240.09 466.3V464.41M241.45 466.3V464.41M242.81 466.3V464.41M244.16 466.3V464.41M245.52 466.3V464.41M246.87 466.3V464.41M248.23 466.3V464.41M249.59 466.3V464.41M250.94 466.3V464.41M252.3 466.3V464.41M253.65 466.3V464.41M255.01 466.3V464.41M256.37 466.3V464.41M257.72 466.3V464.41M259.08 466.3V464.41M260.43 466.3V463.73M417.73 466.3V465.12M419.09 466.3V465.12M420.44 466.3V465.12M421.8 466.3V465.12M423.16 466.3V465.12M424.51 466.3V465.12M425.87 466.3V465.12M427.22 466.3V465.12M428.58 466.3V465.12M429.94 466.3V465.12M431.29 466.3V465.12M432.65 466.3V465.12M434 466.3V465.12M435.36 466.3V465.12M436.72 466.3V464.79M438.07 466.3V464.22M439.43 466.3V464.22M440.78 466.3V464.22M442.14 466.3V464.22M443.5 466.3V464.22M444.85 466.3V464.22M446.21 466.3V464.22M447.56 466.3V464.22M448.92 466.3V464.22M450.28 466.3V464.22" stroke="#555" stroke-width="0.7" fill="none"/><path d="M189.28 466.3h4M190.63 466.3h4M191.99 466.3h4M193.35 466.25h4M194.7 466.26h4M196.06 466.29h4M234.03 466.3h4M235.38 466.3h4M236.74 466.3h4M238.09 466.3h4M239.45 466.3h4M240.81 466.3h4M242.16 466.3h4M243.52 466.3h4M244.87 466.3h4M246.23 466.3h4M247.59 466.3h4M248.94 466.3h4M250.3 466.3h4M251.65 466.3h4M253.01 466.3h4M254.37 466.3h4M255.72 466.3h4M257.08 466.3h4M258.43 466.3h4M415.73 466.3h4M417.09 466.3h4M418.44 466.3h4M419.8 466.3h4M421.16 466.3h4M422.51 466.3h4M423.87 466.3h4M425.22 466.3h4M426.58 466.3h4M427.94 466.3h4M429.29 466.3h4M430.65 466.3h4M432 466.3h4M433.36 466.3h4M434.72 466.3h4M436.07 466.3h4M437.43 466.3h4M438.78 466.3h4M440.14 466.3h4M441.5 466.3h4M442.85 466.3h4M444.21 466.3h4M445.56 466.3h4M446.92 466.3h4M448.28 466.3h4" stroke="#505050" stroke-width="1" fill="none"/></g>
<path d="M191.28 465.83V464.88M192.63 465.59V464.41M193.99 465.19V463.84M195.35 464.69V463.13M196.7 464.4V462.54M198.06 463.84V461.4M199.41 463.46V460.62M200.77 461.78V460.36M202.13 460.62V454.93M203.48 458.72V452.09M204.84 442.61V436.93M206.19 440.24V433.14M207.55 433.14V427.45M208.91 422.24V416.56M210.26 394.38V386.66M211.62 381.02V369.18M212.97 360.18V350.23M214.33 362.08V356.39M215.69 377.71V369.18M217.04 399.98V390.5M218.4 421.29V409.45M219.75 436.45V431.24M221.11 436.45V432.19M222.47 436.93V431.24M223.82 437.88V433.14M225.18 450.19V442.14M226.53 451.63V450.69M227.89 453.47V452.07M229.25 453.98V447.35M230.6 456.01V449.79M231.96 458.53V455.94M233.31 460.62V454.46M234.67 463.46V459.67M236.03 463.65V460.15M237.38 463.91V460.8M238.74 464.17V461.44M240.09 464.41V462.04M241.45 464.41V462.07M242.81 464.41V462.1M244.16 464.41V462.13M245.52 464.41V462.17M246.87 464.41V462.2M248.23 464.41V462.23M249.59 464.41V462.27M250.94 464.41V462.25M252.3 464.41V462.21M253.65 464.41V462.18M255.01 464.41V462.14M256.37 464.41V462.11M257.72 464.41V462.07M259.08 464.41V462.04M260.43 463.73V460M261.79 462.98V457.77M263.15 462.58V457.5M264.5 462.12V461.09M265.86 461.56V456.82M267.21 460.47V459.68M268.57 459.82V458.96M269.93 459.19V450.67M271.28 458.32V456.1M272.64 458.01V456.91M273.99 457.77V448.3M275.35 459.46V455.31M276.71 460.14V454.46M278.06 460.25V459.46M279.42 459.83V454.7M280.77 459.67V453.98M282.13 458.49V451.12M283.49 457.3V447.35M284.84 457.21V454.22M286.2 458.02V453.15M287.55 458.25V450.19M288.91 457.07V455.1M290.27 457.3V449.25M291.62 452.89V450.03M292.98 449.72V440.24M294.33 448.02V440.23M295.69 445.13V433.71M297.05 445.46V413.24M298.4 447.9V443.8M299.76 446.4V420.82M301.11 447.35V430.3M302.47 448.98V442.49M303.83 449.72V443.83M305.18 451.14V437.4M306.54 452.42V448.45M307.89 453.98V439.77M309.25 450.26V448.05M310.61 444.03V420.35M311.96 446.23V433.34M313.32 444.98V422.72M314.67 445.11V429.59M316.03 446.93V431.76M317.39 444.98V428.4M318.74 446.16V443.73M320.1 444.98V431.24M321.45 423.66V413.24M322.81 421.74V416.9M324.17 421.29V408.5M325.52 409.45V397.61M326.88 409.46V398.43M328.23 411.82V397.61M329.59 407.08V386.24M330.95 413.84V396.66M332.3 435.28V420.89M333.66 439.77V420.82M335.01 439.43V436.37M336.37 439.77V413.24M337.73 439.77V423.19M339.08 439.43V437.08M340.44 442.83V427.02M341.8 442.14V419.87M343.15 444.14V434.5M344.51 442.14V417.5M345.86 441.91V426M347.22 443.58V439.63M348.58 444.26V430.89M349.93 446.88V432.19M351.29 449.93V443.71M352.64 449.87V445.37M354 453.04V442.14M355.36 453.77V450.76M356.71 455.32V453.95M358.07 455.88V444.98M359.42 456.87V448.95M360.78 457.22V454.68M362.14 457.77V445.93M363.49 456.81V454.4M364.85 455.24V453.67M366.2 455.13V450.11M367.56 453.98V440.72M368.92 453.45V451.58M370.27 452.55V450.58M371.63 450.67V435.03M372.98 449.89V446.25M374.34 450.67V426.98M375.7 450.61V444.89M377.05 452.73V448.6M378.41 455.4V441.67M379.76 454.87V446.63M381.12 455.77V449.78M382.48 455.4V444.51M383.83 456.49V449.66M385.19 456.47V454.41M386.54 456.82V444.03M387.9 458.02V456.71M389.26 457.77V449.25M390.61 457.3V452.73M391.97 457.7V450.45M393.32 458.25V450.19M394.68 459.9V456.53M396.04 460.19V456M397.39 461.09V454.46M398.75 461.22V459.41M400.1 460.82V459.71M401.46 461.09V451.14M402.82 461.38V458.84M404.17 461.62V460.48M405.53 462.04V458.25M406.88 461.88V461.38M408.24 462.35V458.61M409.6 461.83V459.79M410.95 462.37V459.13M412.31 461.7V461.23M413.66 462.33V461.84M415.02 462.04V458.25M416.38 463.45V460.64M417.73 465.12V463.46M419.09 465.12V463.46M420.44 465.12V463.46M421.8 465.12V463.46M423.16 465.12V463.46M424.51 465.12V463.46M425.87 465.12V463.46M427.22 465.12V463.46M428.58 465.12V463.46M429.94 465.12V463.46M431.29 465.12V463.46M432.65 465.12V463.46M434 465.12V463.46M435.36 465.12V463.46M436.72 464.79V462.44M438.07 464.22V460.62M439.43 464.22V460.62M440.78 464.22V460.62M442.14 464.22V460.62M443.5 464.22V460.62M444.85 464.22V460.62M446.21 464.22V460.62M447.56 464.22V460.62M448.92 464.22V460.62M450.28 464.22V460.62M451.63 460.04V458.49M452.99 456.35V441.19M454.34 455.98V444.66M455.7 455.82V446.75M457.06 456.35V438.35M458.41 456.22V453.66M459.77 454.46V444.98M461.12 454.15V446.63M462.48 453.14V451.56M463.84 453.82V452.84M465.19 453.51V446.88M466.55 454.16V450.8M467.9 455.24V453.37M469.26 456.59V449.92M470.62 457.3V443.56M471.97 457.08V454.18M473.33 457.66V450.28M474.68 457.86V453.51M476.04 456.95V454.23M477.4 457.3V450.67M478.75 457.71V456.84M480.11 459.26V457.02M481.46 460.14V451.61M482.82 460.78V456.07M484.18 460.48V457.47M485.53 461.22V454.25M486.89 460.84V458.71M488.24 461.09V453.51M489.6 460.33V456.78M490.96 458.56V457.12M492.31 458.25V447.35M493.67 458.03V452.01M495.02 457.88V454.39M496.38 458.15V455.55M497.74 458.25V449.72M499.09 457.71V453.04M500.45 456.79V452.2M501.8 455.4V440.24M503.16 455.01V450.91M504.52 455.83V451.56M505.87 455.75V446.86M507.23 454.95V446.33M508.58 455.4V444.03M509.94 455.28V453.47M511.3 454.57V441.32M512.65 454.46V435.51M514.01 454.4V446.17M515.36 455.25V451.45M516.72 454.46V441.19M518.08 453.69V450.58M519.43 454.93V444.98M520.79 454.88V452.51M522.14 454.25V443.25M523.5 455.52V452.49M524.86 454.93V439.77M526.21 455.92V449.59M527.57 455.43V448.05M528.92 454.93V448.3M530.28 455.49V453.48M531.64 457.25V450.64M532.99 458.25V447.35M534.35 458.72V456.39M535.7 459.47V457.99M537.06 459.36V454.17M538.42 459.88V458.73M539.77 460.62V451.61M541.13 460.21V459.07M542.48 459.93V458.36M543.84 459.61V457.33M545.2 459.48V457.73M546.55 459.19V448.3M547.91 457.22V455.59M549.26 457.3V455.3M550.62 456.35V444.98M551.98 455.96V453.37M553.33 457V451.91M554.69 456.77V455.62M556.04 456.35V448.3M557.4 455.22V446.26M558.76 454.07V448.61M560.11 454.11V445.25M561.47 453.04V436.45M562.82 454.14V449.42M564.18 453.05V449.11M565.54 454.32V452.47M566.89 454.06V452.21M568.25 453.51V440.72M569.6 454.23V452.34M570.96 454.44V450.41M572.32 453.04V438.82M573.67 451.09V448.73M575.03 450.67V436.93M576.38 449.99V446.46M577.74 448.3V432.66M579.1 446.84V433.85M580.45 447.35V433.14M581.81 447.2V440.3M583.16 448.52V439.31M584.52 447.35V432.19M585.88 439.1V434.71M587.23 432.19V423.66M588.59 432.19V426.98M589.94 430.94V426.21M591.3 430.73V424.1M592.66 429.82V418.45M594.01 426.17V419.7M595.37 419.18V414.34M596.72 414.19V399.03M598.08 412.31V400.7M599.44 414.19V404.71M600.79 416.95V412.28M602.15 413.15V405.63M603.5 410.87V392.87M604.86 404.24V386.71M606.22 398.52V381.07M607.57 392.39V371.55M608.93 387.66V362.55M610.28 388.74V369.91M611.64 391.92V371.08M613 383.39V357.34M614.35 377.24V352.6M615.71 386.83V368.31M617.06 381.97V362.55M618.42 379.6V357.34M619.78 373.92V345.97M621.13 378.66V355.44M622.49 381.02V360.18M623.84 376.32V363.76M625.2 377.92V367.52M626.56 381.02V360.18M627.91 373.92V345.97M629.27 374.26V350.89M630.62 368.71V336.02M631.98 364.44V327.02M633.34 362.08V322.28M634.69 349.76V321.81M636.05 346.92V324.18M637.4 360.62V349.77M638.76 363.41V354.81M640.12 364.44V347.86M641.47 372.02V352.6M642.83 367.75V351.86M644.19 376.59V366.63M645.54 378.66V357.81M646.9 376.64V368.71M648.25 383.39V364.44M649.61 386.65V379.06M650.97 390.5V369.18M652.32 394.42V386.19M653.68 397.61V372.02M655.03 403.92V394.53M656.39 404.71V381.02M657.75 401.56V387.58M659.1 408.98V386.71M660.46 415.98V402.29M661.81 416.56V389.08M663.17 418.94V394.05M664.53 423.19V399.98M665.88 423.39V407.66M667.24 425.7V409.82M668.59 428.87V406.13M669.95 422.89V408.61M671.31 419.87V399.98M672.66 416.56V399.03M674.02 409.7V397.64M675.37 408.98V390.5M676.73 397.61V386.24M678.09 381.02V351.18M679.44 324.18V296.7M680.8 323.73V297.26M682.15 286.27V256.9M683.51 258.16V235.41M684.87 257.85V235.11M686.22 243.87V231.69M687.58 229.43V198.63M688.93 216.53V206.55M690.29 201V183.47M691.65 182.05V129.94M693 139.89V71.67M694.36 158.36V77.35M695.71 172.57V131.83M697.07 195.31V133.25M698.43 201V134.68M699.78 210.48V137.04M701.14 229.43V208.58M702.49 243.64V227.53M703.85 286.27V267.8M705.21 316.67V308.53M706.56 328.91V308.07M707.92 347.92V331.33M709.27 339.81V298.12M710.63 343.12V303.8M711.99 357.34V318.49M713.34 353.73V322.21M714.7 364.92V336.02M716.05 367.49V353.37M717.41 353.11V335.05M718.77 349.28V318.02M720.12 358.96V335.9M721.48 362.08V333.65M722.83 362.08V333.65M724.19 369.85V340.1M725.55 364.9V351.26M726.9 360.18V322.75M728.26 333.65V313.75M729.61 324.3V312.86M730.97 314.7V272.54M732.33 324.18V272.54M733.68 341.77V299.79M735.04 338.39V303.8M736.39 336.25V302.96M737.75 347.86V303.8M739.11 347.24V321.46M740.46 362.08V320.38M741.82 371.55V327.97M743.17 369.32V347.13M744.53 374.39V338.86M745.89 379.9V359.81M747.24 381.02V344.55M748.6 383.33V356.85M749.95 385.76V356.86M751.31 394.03V380.1M752.67 397.15V381.67M754.02 397.13V364.44M755.38 398.99V385.12M756.73 402.34V380.55M758.09 400.03V379.88M759.45 402.34V372.5M760.8 405.69V395.74M762.16 404.71V378.18M763.51 399.3V384.89M764.87 395.24V367.76M766.23 399.27V377.88M767.58 388.13V360.65M768.94 392.5V379.25M770.29 390.51V362.33M771.65 385.76V356.86M773.01 390.95V363.17M774.36 381.02V352.13M775.72 381.33V359.17M777.07 376.29V347.86M778.43 359.71V333.18M779.79 357.34V330.81M781.14 362.84V349.4M782.5 347.86V323.23M783.85 328.91V297.17M785.21 305.23V265.9M786.57 295.75V260.22M787.92 285.8V238.43" stroke="#555" stroke-width="0.7" fill="none"/>
<path d="M189.28 464.88h4M190.63 464.41h4M191.99 463.84h4M193.35 463.13h4M194.7 462.54h4M196.06 461.4h4M197.41 460.62h4M198.77 460.36h4M200.13 454.93h4M201.48 452.09h4M202.84 436.93h4M204.19 433.14h4M205.55 427.45h4M206.91 416.56h4M208.26 386.66h4M209.62 369.18h4M210.97 350.23h4M212.33 356.39h4M213.69 369.18h4M215.04 390.5h4M216.4 409.45h4M217.75 431.24h4M219.11 432.19h4M220.47 431.24h4M221.82 433.14h4M223.18 442.14h4M224.53 450.69h4M225.89 452.07h4M227.25 447.35h4M228.6 449.79h4M229.96 455.94h4M231.31 454.46h4M232.67 459.67h4M234.03 460.15h4M235.38 460.8h4M236.74 461.44h4M238.09 462.04h4M239.45 462.07h4M240.81 462.1h4M242.16 462.13h4M243.52 462.17h4M244.87 462.2h4M246.23 462.23h4M247.59 462.27h4M248.94 462.25h4M250.3 462.21h4M251.65 462.18h4M253.01 462.14h4M254.37 462.11h4M255.72 462.07h4M257.08 462.04h4M258.43 460h4M259.79 457.77h4M261.15 457.5h4M262.5 461.09h4M263.86 456.82h4M265.21 459.68h4M266.57 458.96h4M267.93 450.67h4M269.28 456.1h4M270.64 456.91h4M271.99 448.3h4M273.35 455.31h4M274.71 454.46h4M276.06 459.46h4M277.42 454.7h4M278.77 453.98h4M280.13 451.12h4M281.49 447.35h4M282.84 454.22h4M284.2 453.15h4M285.55 450.19h4M286.91 455.1h4M288.27 449.25h4M289.62 450.03h4M290.98 440.24h4M292.33 440.23h4M293.69 433.71h4M295.05 413.24h4M296.4 443.8h4M297.76 420.82h4M299.11 430.3h4M300.47 442.49h4M301.83 443.83h4M303.18 437.4h4M304.54 448.45h4M305.89 439.77h4M307.25 448.05h4M308.61 420.35h4M309.96 433.34h4M311.32 422.72h4M312.67 429.59h4M314.03 431.76h4M315.39 428.4h4M316.74 443.73h4M318.1 431.24h4M319.45 413.24h4M320.81 416.9h4M322.17 408.5h4M323.52 397.61h4M324.88 398.43h4M326.23 397.61h4M327.59 386.24h4M328.95 396.66h4M330.3 420.89h4M331.66 420.82h4M333.01 436.37h4M334.37 413.24h4M335.73 423.19h4M337.08 437.08h4M338.44 427.02h4M339.8 419.87h4M341.15 434.5h4M342.51 417.5h4M343.86 426h4M345.22 439.63h4M346.58 430.89h4M347.93 432.19h4M349.29 443.71h4M350.64 445.37h4M352 442.14h4M353.36 450.76h4M354.71 453.95h4M356.07 444.98h4M357.42 448.95h4M358.78 454.68h4M360.14 445.93h4M361.49 454.4h4M362.85 453.67h4M364.2 450.11h4M365.56 440.72h4M366.92 451.58h4M368.27 450.58h4M369.63 435.03h4M370.98 446.25h4M372.34 426.98h4M373.7 444.89h4M375.05 448.6h4M376.41 441.67h4M377.76 446.63h4M379.12 449.78h4M380.48 444.51h4M381.83 449.66h4M383.19 454.41h4M384.54 444.03h4M385.9 456.71h4M387.26 449.25h4M388.61 452.73h4M389.97 450.45h4M391.32 450.19h4M392.68 456.53h4M394.04 456h4M395.39 454.46h4M396.75 459.41h4M398.1 459.71h4M399.46 451.14h4M400.82 458.84h4M402.17 460.48h4M403.53 458.25h4M404.88 461.38h4M406.24 458.61h4M407.6 459.79h4M408.95 459.13h4M410.31 461.23h4M411.66 461.84h4M413.02 458.25h4M414.38 460.64h4M415.73 463.46h4M417.09 463.46h4M418.44 463.46h4M419.8 463.46h4M421.16 463.46h4M422.51 463.46h4M423.87 463.46h4M425.22 463.46h4M426.58 463.46h4M427.94 463.46h4M429.29 463.46h4M430.65 463.46h4M432 463.46h4M433.36 463.46h4M434.72 462.44h4M436.07 460.62h4M437.43 460.62h4M438.78 460.62h4M440.14 460.62h4M441.5 460.62h4M442.85 460.62h4M444.21 460.62h4M445.56 460.62h4M446.92 460.62h4M448.28 460.62h4M449.63 458.49h4M450.99 441.19h4M452.34 444.66h4M453.7 446.75h4M455.06 438.35h4M456.41 453.66h4M457.77 444.98h4M459.12 446.63h4M460.48 451.56h4M461.84 452.84h4M463.19 446.88h4M464.55 450.8h4M465.9 453.37h4M467.26 449.92h4M468.62 443.56h4M469.97 454.18h4M471.33 450.28h4M472.68 453.51h4M474.04 454.23h4M475.4 450.67h4M476.75 456.84h4M478.11 457.02h4M479.46 451.61h4M480.82 456.07h4M482.18 457.47h4M483.53 454.25h4M484.89 458.71h4M486.24 453.51h4M487.6 456.78h4M488.96 457.12h4M490.31 447.35h4M491.67 452.01h4M493.02 454.39h4M494.38 455.55h4M495.74 449.72h4M497.09 453.04h4M498.45 452.2h4M499.8 440.24h4M501.16 450.91h4M502.52 451.56h4M503.87 446.86h4M505.23 446.33h4M506.58 444.03h4M507.94 453.47h4M509.3 441.32h4M510.65 435.51h4M512.01 446.17h4M513.36 451.45h4M514.72 441.19h4M516.08 450.58h4M517.43 444.98h4M518.79 452.51h4M520.14 443.25h4M521.5 452.49h4M522.86 439.77h4M524.21 449.59h4M525.57 448.05h4M526.92 448.3h4M528.28 453.48h4M529.64 450.64h4M530.99 447.35h4M532.35 456.39h4M533.7 457.99h4M535.06 454.17h4M536.42 458.73h4M537.77 451.61h4M539.13 459.07h4M540.48 458.36h4M541.84 457.33h4M543.2 457.73h4M544.55 448.3h4M545.91 455.59h4M547.26 455.3h4M548.62 444.98h4M549.98 453.37h4M551.33 451.91h4M552.69 455.62h4M554.04 448.3h4M555.4 446.26h4M556.76 448.61h4M558.11 445.25h4M559.47 436.45h4M560.82 449.42h4M562.18 449.11h4M563.54 452.47h4M564.89 452.21h4M566.25 440.72h4M567.6 452.34h4M568.96 450.41h4M570.32 438.82h4M571.67 448.73h4M573.03 436.93h4M574.38 446.46h4M575.74 432.66h4M577.1 433.85h4M578.45 433.14h4M579.81 440.3h4M581.16 439.31h4M582.52 432.19h4M583.88 434.71h4M585.23 423.66h4M586.59 426.98h4M587.94 426.21h4M589.3 424.1h4M590.66 418.45h4M592.01 419.7h4M593.37 414.34h4M594.72 399.03h4M596.08 400.7h4M597.44 404.71h4M598.79 412.28h4M600.15 405.63h4M601.5 392.87h4M602.86 386.71h4M604.22 381.07h4M605.57 371.55h4M606.93 362.55h4M608.28 369.91h4M609.64 371.08h4M611 357.34h4M612.35 352.6h4M613.71 368.31h4M615.06 362.55h4M616.42 357.34h4M617.78 345.97h4M619.13 355.44h4M620.49 360.18h4M621.84 363.76h4M623.2 367.52h4M624.56 360.18h4M625.91 345.97h4M627.27 350.89h4M628.62 336.02h4M629.98 327.02h4M631.34 322.28h4M632.69 321.81h4M634.05 324.18h4M635.4 349.77h4M636.76 354.81h4M638.12 347.86h4M639.47 352.6h4M640.83 351.86h4M642.19 366.63h4M643.54 357.81h4M644.9 368.71h4M646.25 364.44h4M647.61 379.06h4M648.97 369.18h4M650.32 386.19h4M651.68 372.02h4M653.03 394.53h4M654.39 381.02h4M655.75 387.58h4M657.1 386.71h4M658.46 402.29h4M659.81 389.08h4M661.17 394.05h4M662.53 399.98h4M663.88 407.66h4M665.24 409.82h4M666.59 406.13h4M667.95 408.61h4M669.31 399.98h4M670.66 399.03h4M672.02 397.64h4M673.37 390.5h4M674.73 386.24h4M676.09 351.18h4M677.44 296.7h4M678.8 297.26h4M680.15 256.9h4M681.51 235.41h4M682.87 235.11h4M684.22 231.69h4M685.58 198.63h4M686.93 206.55h4M688.29 183.47h4M689.65 129.94h4M691 71.67h4M692.36 77.35h4M693.71 131.83h4M695.07 133.25h4M696.43 134.68h4M697.78 137.04h4M699.14 208.58h4M700.49 227.53h4M701.85 267.8h4M703.21 308.53h4M704.56 308.07h4M705.92 331.33h4M707.27 298.12h4M708.63 303.8h4M709.99 318.49h4M711.34 322.21h4M712.7 336.02h4M714.05 353.37h4M715.41 335.05h4M716.77 318.02h4M718.12 335.9h4M719.48 333.65h4M720.83 333.65h4M722.19 340.1h4M723.55 351.26h4M724.9 322.75h4M726.26 313.75h4M727.61 312.86h4M728.97 272.54h4M730.33 272.54h4M731.68 299.79h4M733.04 303.8h4M734.39 302.96h4M735.75 303.8h4M737.11 321.46h4M738.46 320.38h4M739.82 327.97h4M741.17 347.13h4M742.53 338.86h4M743.89 359.81h4M745.24 344.55h4M746.6 356.85h4M747.95 356.86h4M749.31 380.1h4M750.67 381.67h4M752.02 364.44h4M753.38 385.12h4M754.73 380.55h4M756.09 379.88h4M757.45 372.5h4M758.8 395.74h4M760.16 378.18h4M761.51 384.89h4M762.87 367.76h4M764.23 377.88h4M765.58 360.65h4M766.94 379.25h4M768.29 362.33h4M769.65 356.86h4M771.01 363.17h4M772.36 352.13h4M773.72 359.17h4M775.07 347.86h4M776.43 333.18h4M777.79 330.81h4M779.14 349.4h4M780.5 323.23h4M781.85 297.17h4M783.21 265.9h4M784.57 260.22h4M785.92 238.43h4" stroke="#505050" stroke-width="1" fill="none"/>
</g>
<path d="M190.6 466.3V68.5H788.3V466.3" fill="none" stroke="#595959" stroke-width="1.2"/>
<g font-family="Liberation Sans" font-size="9.6" fill="#262626" stroke="#262626" stroke-width="0.2" text-anchor="end"><text transform="translate(180.5 469.1) scale(0.93 1)">0</text><text transform="translate(180.5 450.15) scale(0.93 1)">40</text><text transform="translate(180.5 431.2) scale(0.93 1)">80</text><text transform="translate(180.5 412.25) scale(0.93 1)">120</text><text transform="translate(180.5 393.3) scale(0.93 1)">160</text><text transform="translate(180.5 374.35) scale(0.93 1)">200</text><text transform="translate(180.5 355.4) scale(0.93 1)">240</text><text transform="translate(180.5 336.45) scale(0.93 1)">280</text><text transform="translate(180.5 317.5) scale(0.93 1)">320</text><text transform="translate(180.5 298.55) scale(0.93 1)">360</text><text transform="translate(180.5 279.6) scale(0.93 1)">400</text><text transform="translate(180.5 260.65) scale(0.93 1)">440</text><text transform="translate(180.5 241.7) scale(0.93 1)">480</text><text transform="translate(180.5 222.75) scale(0.93 1)">520</text><text transform="translate(180.5 203.8) scale(0.93 1)">560</text><text transform="translate(180.5 184.85) scale(0.93 1)">600</text><text transform="translate(180.5 165.9) scale(0.93 1)">640</text><text transform="translate(180.5 146.95) scale(0.93 1)">680</text><text transform="translate(180.5 128) scale(0.93 1)">720</text><text transform="translate(180.5 109.05) scale(0.93 1)">760</text><text transform="translate(180.5 90.1) scale(0.93 1)">800</text><text transform="translate(180.5 71.15) scale(0.93 1)">840</text></g>
<g font-family="Liberation Sans" font-size="8.1" fill="#262626" stroke="#262626" stroke-width="0.15" text-anchor="end"><text transform="translate(193.88 472) rotate(-90) scale(0.926 1)">5-Οκτ</text><text transform="translate(200.66 472) rotate(-90) scale(0.926 1)">19-Οκτ</text><text transform="translate(207.44 472) rotate(-90) scale(0.926 1)">30-Οκτ</text><text transform="translate(214.22 472) rotate(-90) scale(0.926 1)">11-Νοε</text><text transform="translate(221 472) rotate(-90) scale(0.926 1)">23-Νοε</text><text transform="translate(227.78 472) rotate(-90) scale(0.926 1)">04-Δεκ</text><text transform="translate(234.56 472) rotate(-90) scale(0.926 1)">16-Δεκ</text><text transform="translate(241.34 472) rotate(-90) scale(0.926 1)">28-Δεκ</text><text transform="translate(248.12 472) rotate(-90) scale(0.926 1)">8-Ιαν</text><text transform="translate(254.9 472) rotate(-90) scale(0.926 1)">20-Ιαν</text><text transform="translate(261.68 472) rotate(-90) scale(0.926 1)">01-Φεβ</text><text transform="translate(268.46 472) rotate(-90) scale(0.926 1)">09-Φεβ</text><text transform="translate(275.24 472) rotate(-90) scale(0.926 1)">15-Φεβ</text><text transform="translate(282.02 472) rotate(-90) scale(0.926 1)">21-Φεβ</text><text transform="translate(288.8 472) rotate(-90) scale(0.926 1)">26-Φεβ</text><text transform="translate(295.58 472) rotate(-90) scale(0.926 1)">04-Μαρ</text><text transform="translate(302.36 472) rotate(-90) scale(0.926 1)">10-Μαρ</text><text transform="translate(309.14 472) rotate(-90) scale(0.926 1)">16-Μαρ</text><text transform="translate(315.92 472) rotate(-90) scale(0.926 1)">22-Μαρ</text><text transform="translate(322.7 472) rotate(-90) scale(0.926 1)">28-Μαρ</text><text transform="translate(329.48 472) rotate(-90) scale(0.926 1)">02-Απρ</text><text transform="translate(336.26 472) rotate(-90) scale(0.926 1)">08-Απρ</text><text transform="translate(343.04 472) rotate(-90) scale(0.926 1)">14-Απρ</text><text transform="translate(349.82 472) rotate(-90) scale(0.926 1)">20-Απρ</text><text transform="translate(356.6 472) rotate(-90) scale(0.926 1)">26-Απρ</text><text transform="translate(363.38 472) rotate(-90) scale(0.926 1)">02-Μαϊ</text><text transform="translate(370.16 472) rotate(-90) scale(0.926 1)">07-Μαϊ</text><text transform="translate(376.94 472) rotate(-90) scale(0.926 1)">12-Μαϊ</text><text transform="translate(383.72 472) rotate(-90) scale(0.926 1)">18-Μαϊ</text><text transform="translate(390.5 472) rotate(-90) scale(0.926 1)">24-Μαϊ</text><text transform="translate(397.28 472) rotate(-90) scale(0.926 1)">30-Μαϊ</text><text transform="translate(404.06 472) rotate(-90) scale(0.926 1)">04-Ιουν</text><text transform="translate(410.84 472) rotate(-90) scale(0.926 1)">10-Ιουν</text><text transform="translate(417.62 472) rotate(-90) scale(0.926 1)">15-Ιουν</text><text transform="translate(424.4 472) rotate(-90) scale(0.926 1)">20-Ιουν</text><text transform="translate(431.18 472) rotate(-90) scale(0.926 1)">25-Ιουν</text><text transform="translate(437.96 472) rotate(-90) scale(0.926 1)">30-Ιουν</text><text transform="translate(444.74 472) rotate(-90) scale(0.926 1)">05-Ιουλ</text><text transform="translate(451.52 472) rotate(-90) scale(0.926 1)">10-Ιουλ</text><text transform="translate(458.3 472) rotate(-90) scale(0.926 1)">15-Ιουλ</text><text transform="translate(465.08 472) rotate(-90) scale(0.926 1)">20-Ιουλ</text><text transform="translate(471.86 472) rotate(-90) scale(0.926 1)">25-Ιουλ</text><text transform="translate(478.64 472) rotate(-90) scale(0.926 1)">30-Ιουλ</text><text transform="translate(485.42 472) rotate(-90) scale(0.926 1)">04-Αυγ</text><text transform="translate(492.2 472) rotate(-90) scale(0.926 1)">09-Αυγ</text><text transform="translate(498.98 472) rotate(-90) scale(0.926 1)">14-Αυγ</text><text transform="translate(505.76 472) rotate(-90) scale(0.926 1)">19-Αυγ</text><text transform="translate(512.54 472) rotate(-90) scale(0.926 1)">24-Αυγ</text><text transform="translate(519.32 472) rotate(-90) scale(0.926 1)">29-Αυγ</text><text transform="translate(526.1 472) rotate(-90) scale(0.926 1)">03-Σεπ</text><text transform="translate(532.88 472) rotate(-90) scale(0.926 1)">08-Σεπ</text><text transform="translate(539.66 472) rotate(-90) scale(0.926 1)">13-Σεπ</text><text transform="translate(546.44 472) rotate(-90) scale(0.926 1)">18-Σεπ</text><text transform="translate(553.22 472) rotate(-90) scale(0.926 1)">23-Σεπ</text><text transform="translate(560 472) rotate(-90) scale(0.926 1)">28-Σεπ</text><text transform="translate(566.78 472) rotate(-90) scale(0.926 1)">03-Οκτ</text><text transform="translate(573.56 472) rotate(-90) scale(0.926 1)">08-Οκτ</text><text transform="translate(580.34 472) rotate(-90) scale(0.926 1)">13-Οκτ</text><text transform="translate(587.12 472) rotate(-90) scale(0.926 1)">18-Οκτ</text><text transform="translate(593.9 472) rotate(-90) scale(0.926 1)">23-Οκτ</text><text transform="translate(600.68 472) rotate(-90) scale(0.926 1)">28-Οκτ</text><text transform="translate(607.46 472) rotate(-90) scale(0.926 1)">02-Νοε</text><text transform="translate(614.24 472) rotate(-90) scale(0.926 1)">07-Νοε</text><text transform="translate(621.02 472) rotate(-90) scale(0.926 1)">12-Νοε</text><text transform="translate(627.8 472) rotate(-90) scale(0.926 1)">17-Νοε</text><text transform="translate(634.58 472) rotate(-90) scale(0.926 1)">22-Νοε</text><text transform="translate(641.36 472) rotate(-90) scale(0.926 1)">27-Νοε</text><text transform="translate(648.14 472) rotate(-90) scale(0.926 1)">02-Δεκ</text><text transform="translate(654.92 472) rotate(-90) scale(0.926 1)">07-Δεκ</text><text transform="translate(661.7 472) rotate(-90) scale(0.926 1)">12-Δεκ</text><text transform="translate(668.48 472) rotate(-90) scale(0.926 1)">17-Δεκ</text><text transform="translate(675.26 472) rotate(-90) scale(0.926 1)">22-Δεκ</text><text transform="translate(682.04 472) rotate(-90) scale(0.926 1)">27-Δεκ</text><text transform="translate(688.82 472) rotate(-90) scale(0.926 1)">01-Ιαν</text><text transform="translate(695.6 472) rotate(-90) scale(0.926 1)">06-Ιαν</text><text transform="translate(702.38 472) rotate(-90) scale(0.926 1)">11-Ιαν</text><text transform="translate(709.16 472) rotate(-90) scale(0.926 1)">16-Ιαν</text><text transform="translate(715.94 472) rotate(-90) scale(0.926 1)">21-Ιαν</text><text transform="translate(722.72 472) rotate(-90) scale(0.926 1)">26-Ιαν</text><text transform="translate(729.5 472) rotate(-90) scale(0.926 1)">31-Ιαν</text><text transform="translate(736.28 472) rotate(-90) scale(0.926 1)">05-Φεβ</text><text transform="translate(743.06 472) rotate(-90) scale(0.926 1)">10-Φεβ</text><text transform="translate(749.84 472) rotate(-90) scale(0.926 1)">15-Φεβ</text><text transform="translate(756.62 472) rotate(-90) scale(0.926 1)">20-Φεβ</text><text transform="translate(763.4 472) rotate(-90) scale(0.926 1)">25-Φεβ</text><text transform="translate(770.18 472) rotate(-90) scale(0.926 1)">02-Μαρ</text><text transform="translate(776.96 472) rotate(-90) scale(0.926 1)">07-Μαρ</text><text transform="translate(783.74 472) rotate(-90) scale(0.926 1)">12-Μαρ</text><text transform="translate(790.52 472) rotate(-90) scale(0.926 1)">17-Μαρ</text></g>
<text transform="translate(128.6 268.4) rotate(-90)" font-family="Liberation Sans" font-weight="bold" font-size="12.8" text-anchor="middle" textLength="272" lengthAdjust="spacingAndGlyphs" fill="#111" stroke="#111" stroke-width="0.3">Σχετικός Ρυθμός Έκκρισης Ιικού Φορτίου</text>
<text x="483.1" y="540.3" font-family="Liberation Sans" font-weight="bold" font-size="12.8" text-anchor="middle" textLength="82" lengthAdjust="spacingAndGlyphs" fill="#111" stroke="#111" stroke-width="0.3">Ημερομηνία</text>
</svg>
</body></html>
